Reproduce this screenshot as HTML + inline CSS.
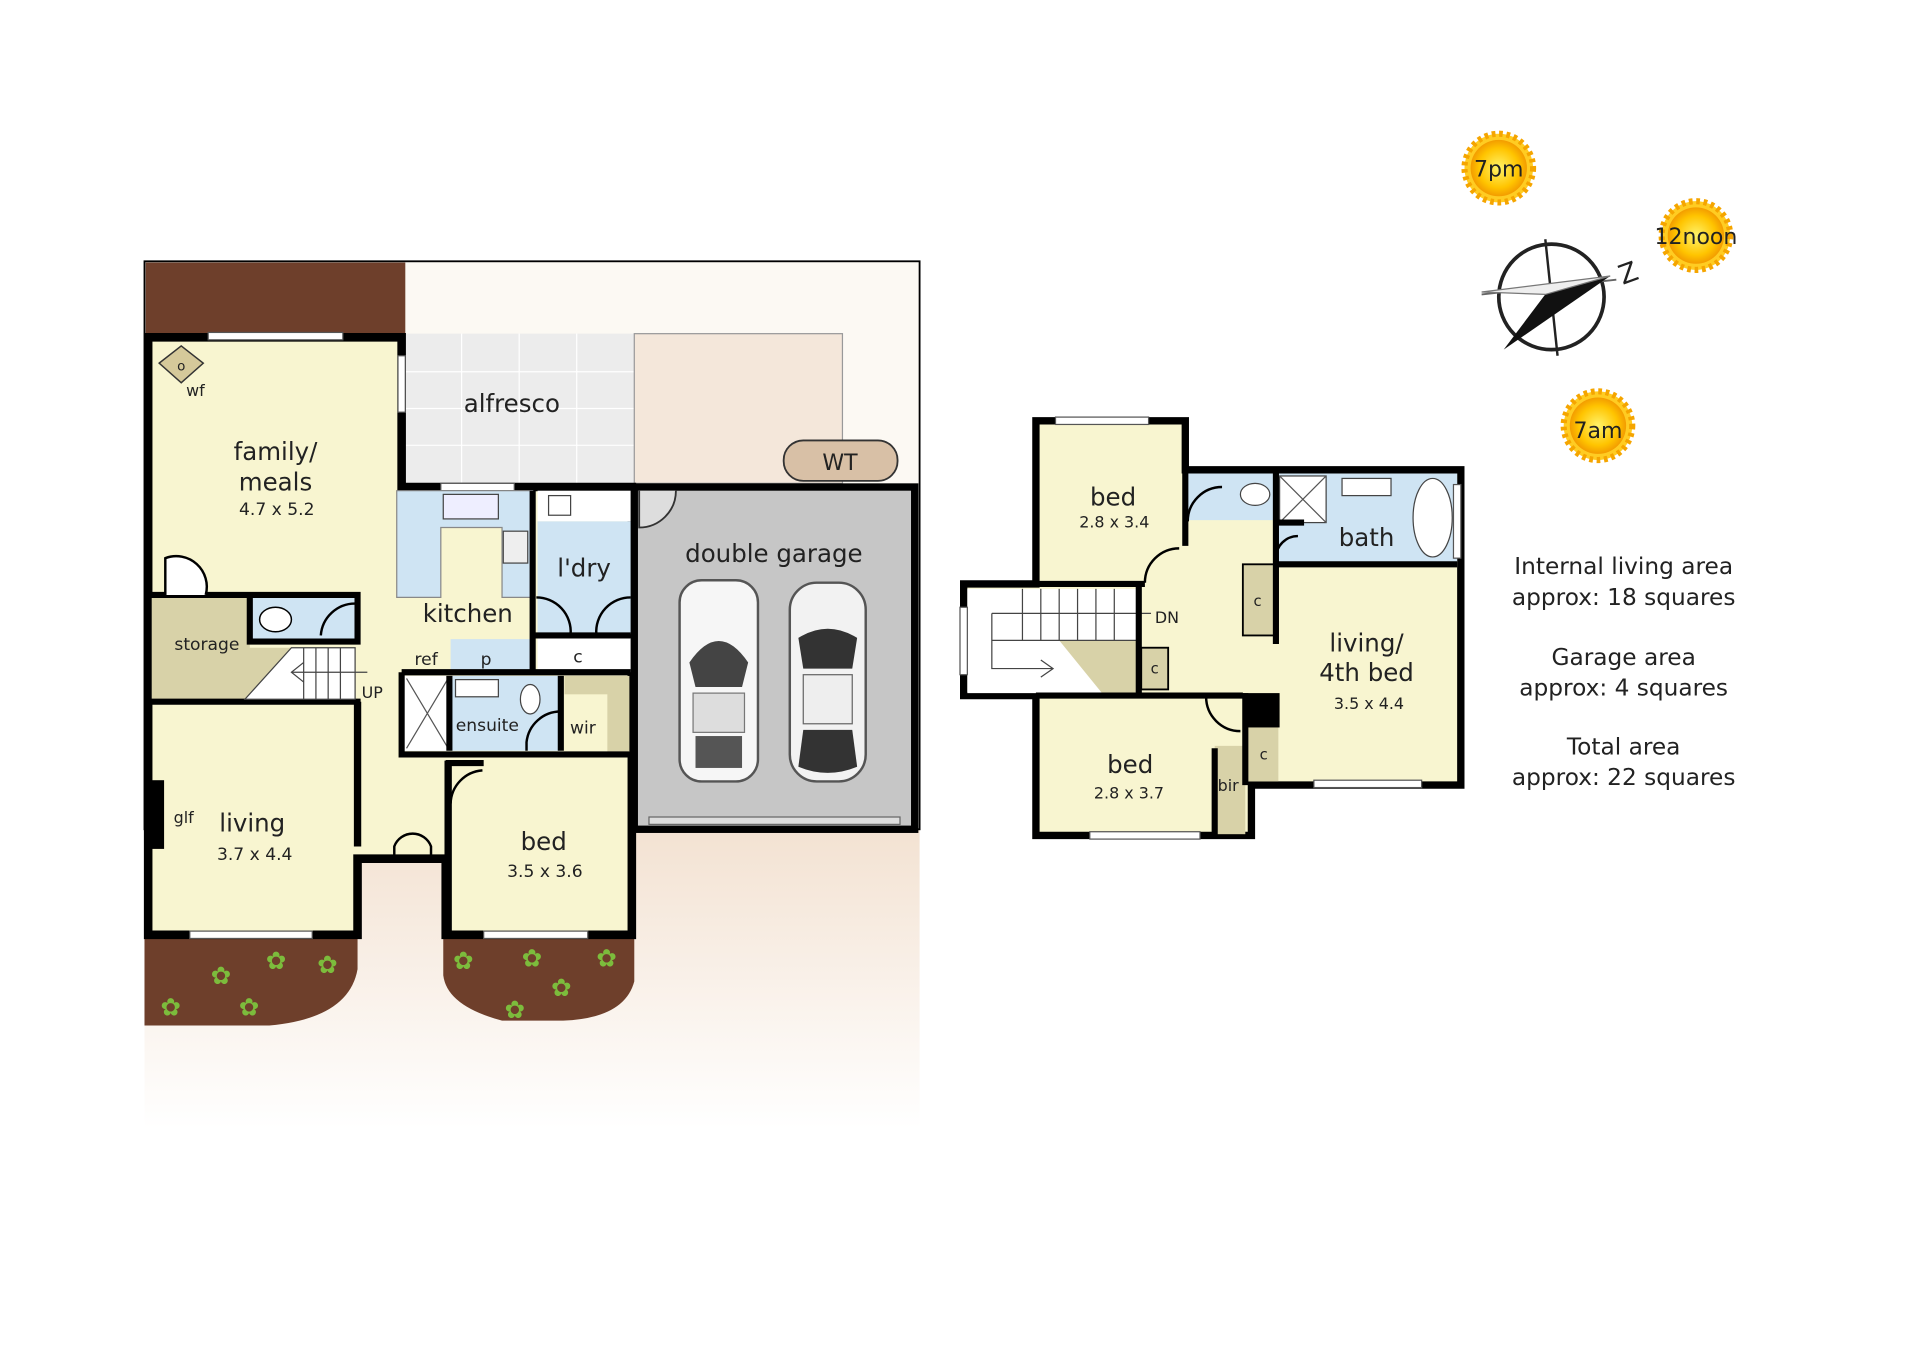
<!DOCTYPE html>
<html><head><meta charset="utf-8"><style>
html,body{margin:0;padding:0;background:#fff;}
svg{display:block;}
text{font-family:"DejaVu Sans","Liberation Sans",sans-serif;fill:#222;}
text.fl{fill:#7cbc3c;}
</style></head><body>
<svg width="1920" height="1358" viewBox="0 0 1568 1107" preserveAspectRatio="none" xmlns="http://www.w3.org/2000/svg">
<defs>
<linearGradient id="fade" x1="0" y1="0" x2="0" y2="1">
<stop offset="0" stop-color="#f3e2d2"/><stop offset="1" stop-color="#ffffff"/></linearGradient>
<radialGradient id="sun"><stop offset="0" stop-color="#fff36a"/><stop offset="0.7" stop-color="#ffc400"/><stop offset="1" stop-color="#f39c00"/></radialGradient>
</defs>
<rect x="118" y="676" width="633" height="244" fill="url(#fade)"/>
<rect x="118" y="213" width="633" height="463" fill="#fcf9f3" stroke="#000" stroke-width="1.5"/>
<rect x="119" y="214" width="212" height="58" fill="#6e3f2b"/>
<rect x="331" y="272" width="187" height="122" fill="#ececec"/>
<g stroke="#fff" stroke-width="1"><line x1="377" y1="272" x2="377" y2="394"/><line x1="424" y1="272" x2="424" y2="394"/><line x1="471" y1="272" x2="471" y2="394"/><line x1="331" y1="303" x2="518" y2="303"/><line x1="331" y1="333" x2="518" y2="333"/><line x1="331" y1="363" x2="518" y2="363"/></g>
<rect x="518" y="272" width="170" height="122" fill="#f4e7da" stroke="#999" stroke-width="1"/>
<rect x="640" y="359" width="93" height="33" rx="16" fill="#d8c0a6" stroke="#333" stroke-width="1.5"/>
<text x="686" y="383" font-size="18" text-anchor="middle">WT</text>
<path d="M118 765 H292 V790 Q285 830 220 836 H118 Z" fill="#6e3f2b"/>
<path d="M362 765 H518 V800 Q510 830 460 832 H410 Q365 820 362 795 Z" fill="#6e3f2b"/>
<g font-size="20">
<text class="fl" x="172" y="802">✿</text><text class="fl" x="217" y="790">✿</text><text class="fl" x="259" y="793">✿</text><text class="fl" x="131" y="828">✿</text><text class="fl" x="195" y="828">✿</text>
<text class="fl" x="370" y="790">✿</text><text class="fl" x="426" y="788">✿</text><text class="fl" x="487" y="788">✿</text><text class="fl" x="450" y="812">✿</text><text class="fl" x="412" y="830">✿</text></g>
<rect x="518" y="397" width="229" height="279" fill="#c6c6c6" stroke="#000" stroke-width="6"/>
<rect x="530" y="666" width="205" height="6" fill="#ddd" stroke="#666" stroke-width="1"/>
<path d="M522 400 V430 A30 30 0 0 0 552 400" fill="#ddd" stroke="#333" stroke-width="1.5"/>
<text x="632" y="458" font-size="20" text-anchor="middle">double garage</text>
<g><rect x="555" y="473" width="64" height="164" rx="18" fill="#f6f6f6" stroke="#555" stroke-width="2"/>
<path d="M563 540 Q587 505 611 540 L606 560 H568 Z" fill="#444"/>
<rect x="568" y="600" width="38" height="26" fill="#555"/>
<rect x="566" y="565" width="42" height="32" fill="#ddd" stroke="#777"/></g>
<g><rect x="645" y="475" width="62" height="162" rx="22" fill="#f2f2f2" stroke="#555" stroke-width="2"/>
<path d="M652 520 Q676 505 700 520 L696 545 H656 Z" fill="#333"/>
<rect x="656" y="550" width="40" height="40" fill="#eee" stroke="#666"/>
<path d="M656 595 H696 L700 625 Q676 635 652 625 Z" fill="#333"/></g>
<path d="M121 275 H328 V397 H516 V762 H364 V700 H292 V762 H121 Z" fill="#f8f5d0" stroke="#000" stroke-width="7" stroke-linejoin="miter"/>
<rect x="170" y="271" width="110" height="6" fill="#fff" stroke="#555" stroke-width="1"/>
<rect x="325" y="290" width="6" height="46" fill="#fff" stroke="#555" stroke-width="1"/>
<rect x="360" y="394" width="60" height="6" fill="#fff" stroke="#555" stroke-width="1"/>
<rect x="155" y="759" width="100" height="6" fill="#fff" stroke="#555" stroke-width="1"/>
<rect x="395" y="759" width="85" height="6" fill="#fff" stroke="#555" stroke-width="1"/>
<path d="M130 296 L148 282 L166 296 L148 312 Z" fill="#d5c99a" stroke="#333" stroke-width="1.2"/>
<text x="148" y="302" font-size="11" text-anchor="middle">o</text>
<text x="152" y="323" font-size="13">wf</text>
<path d="M324 400 H435 V487 H410 V430 H360 V487 H324 Z" fill="#cfe4f3" stroke="#888" stroke-width="1"/>
<rect x="362" y="403" width="45" height="20" fill="#eef" stroke="#444"/>
<rect x="411" y="433" width="20" height="26" fill="#eee" stroke="#444"/>
<rect x="439" y="400" width="76" height="25" fill="#fff"/>
<rect x="448" y="404" width="18" height="16" fill="#fff" stroke="#444"/>
<rect x="439" y="425" width="76" height="92" fill="#cfe4f3"/>
<rect x="439" y="520" width="76" height="28" fill="#fff"/>
<rect x="368" y="521" width="67" height="27" fill="#cfe4f3"/>
<path d="M435 400 V548 M437 518 H515 M437 548 H515 M328 548 H515" stroke="#000" stroke-width="5" fill="none"/>
<path d="M438 487 A28 28 0 0 1 466 517 M515 487 A28 28 0 0 0 487 517" stroke="#000" stroke-width="2" fill="none"/>
<text x="382" y="507" font-size="20" text-anchor="middle">kitchen</text>
<text x="477" y="470" font-size="20" text-anchor="middle">l'dry</text>
<text x="348" y="542" font-size="14" text-anchor="middle">ref</text>
<text x="397" y="542" font-size="14" text-anchor="middle">p</text>
<text x="472" y="540" font-size="14" text-anchor="middle">c</text>
<rect x="124" y="487" width="168" height="84" fill="#f8f5d0"/>
<path d="M124 487 H204 V528 H238 L200 570 H124 Z" fill="#d8d2a8"/>
<rect x="204" y="487" width="86" height="36" fill="#cfe4f3"/>
<g stroke="#000" stroke-width="5" fill="none"><path d="M121 485 H170 M160 485 H292 V523 H204 V485 M121 572 H292 V600"/></g>
<path d="M135 485 V455 A25 25 0 0 1 168 485" fill="#fff" stroke="#000" stroke-width="2"/>
<path d="M262 518 A28 28 0 0 1 290 492" fill="none" stroke="#000" stroke-width="2"/>
<ellipse cx="225" cy="505" rx="13" ry="10" fill="#fff" stroke="#000" stroke-width="1.2"/>
<g stroke="#444" stroke-width="1" fill="none"><path d="M200 570 L238 528 H290 V570 Z" fill="#fff"/>
<line x1="248" y1="528" x2="248" y2="570"/><line x1="258" y1="528" x2="258" y2="570"/><line x1="268" y1="528" x2="268" y2="570"/><line x1="278" y1="528" x2="278" y2="570"/><line x1="238" y1="548" x2="300" y2="548"/><path d="M248 540 L238 548 L248 556"/></g>
<text x="169" y="530" font-size="14" text-anchor="middle">storage</text>
<text x="304" y="569" font-size="13" text-anchor="middle">UP</text>
<rect x="330" y="551" width="128" height="61" fill="#cfe4f3"/>
<rect x="330" y="551" width="37" height="61" fill="#fff"/>
<path d="M332 553 L366 610 M366 553 L332 610" stroke="#555" stroke-width="1"/>
<rect x="461" y="551" width="53" height="62" fill="#d8d2a8"/>
<rect x="461" y="566" width="35" height="50" fill="#f8f5d0"/>
<g stroke="#000" stroke-width="5" fill="none"><path d="M328 548 V615 H395 M367 551 V612 M458 551 V612 M330 615 H514 M364 622 H395"/></g>
<path d="M430 612 V605 A28 28 0 0 1 458 580" fill="none" stroke="#000" stroke-width="2"/>
<rect x="372" y="554" width="35" height="14" fill="#fff" stroke="#444"/>
<ellipse cx="433" cy="570" rx="8" ry="12" fill="#fff" stroke="#444"/>
<text x="398" y="596" font-size="14" text-anchor="middle">ensuite</text>
<text x="476" y="598" font-size="14" text-anchor="middle">wir</text>
<g stroke="#000" stroke-width="6" fill="none"><path d="M292 572 V690 M366 620 V762"/></g>
<path d="M368 655 A28 28 0 0 1 394 628" fill="none" stroke="#000" stroke-width="2"/>
<path d="M322 700 V690 A16 16 0 0 1 352 690 V700" fill="none" stroke="#000" stroke-width="2"/>
<rect x="120" y="636" width="14" height="56" fill="#000"/>
<text x="150" y="671" font-size="13" text-anchor="middle">glf</text>
<text x="225" y="375" font-size="20" text-anchor="middle">family/</text>
<text x="225" y="400" font-size="20" text-anchor="middle">meals</text>
<text x="226" y="420" font-size="14" text-anchor="middle">4.7 x 5.2</text>
<text x="418" y="336" font-size="20" text-anchor="middle">alfresco</text>
<text x="206" y="678" font-size="20" text-anchor="middle">living</text>
<text x="208" y="701" font-size="14" text-anchor="middle">3.7 x 4.4</text>
<text x="444" y="693" font-size="20" text-anchor="middle">bed</text>
<text x="445" y="715" font-size="14" text-anchor="middle">3.5 x 3.6</text>
<path d="M846 343 H968 V383 H1193 V640 H1022 V681 H846 V567 H787 V476 H846 Z" fill="#f8f5d0" stroke="#000" stroke-width="6"/>
<rect x="1042" y="386" width="148" height="72" fill="#cfe4f3"/>
<rect x="970" y="386" width="72" height="38" fill="#cfe4f3"/>
<rect x="1045" y="388" width="38" height="38" fill="#fff" stroke="#444"/>
<path d="M1045 388 L1083 426 M1083 388 L1045 426" stroke="#555"/>
<ellipse cx="1170" cy="422" rx="16" ry="32" fill="#fff" stroke="#444"/>
<rect x="1096" y="390" width="40" height="14" fill="#fff" stroke="#444"/>
<ellipse cx="1025" cy="403" rx="12" ry="9" fill="#fff" stroke="#444"/>
<rect x="1015" y="460" width="27" height="58" fill="#d8d2a8" stroke="#000" stroke-width="1.5"/>
<rect x="932" y="528" width="22" height="34" fill="#d8d2a8" stroke="#000" stroke-width="1.5"/>
<rect x="992" y="608" width="25" height="72" fill="#d8d2a8"/>
<rect x="1017" y="592" width="27" height="45" fill="#d8d2a8"/>
<rect x="1015" y="565" width="30" height="28" fill="#000"/>
<path d="M790 480 H930 V565 H790 Z" fill="#fff"/>
<path d="M865 522 H930 V565 H900 Z" fill="#d8d2a8"/>
<g stroke="#444" stroke-width="1" fill="none">
<line x1="835" y1="480" x2="835" y2="522"/><line x1="850" y1="480" x2="850" y2="522"/><line x1="865" y1="480" x2="865" y2="522"/><line x1="880" y1="480" x2="880" y2="522"/><line x1="895" y1="480" x2="895" y2="522"/><line x1="910" y1="480" x2="910" y2="522"/>
<path d="M810 500 H940 M810 500 V545 H860 M850 538 L860 545 L850 552 M810 522 H930"/></g>
<g stroke="#000" stroke-width="5" fill="none">
<path d="M968 383 V445 M1042 383 V460 H1190 M1042 460 V525 M930 476 V565 M846 476 H935 M846 567 H1015 M1017 565 V640 M992 610 V681 M1065 426 H1042"/></g>
<path d="M935 475 A28 28 0 0 1 963 447" fill="none" stroke="#000" stroke-width="2"/>
<path d="M970 425 A28 28 0 0 1 998 397" fill="none" stroke="#000" stroke-width="2"/>
<path d="M1042 455 A18 18 0 0 1 1060 437" fill="none" stroke="#000" stroke-width="2"/>
<path d="M985 568 A28 28 0 0 0 1013 596" fill="none" stroke="#000" stroke-width="2"/>
<rect x="862" y="340" width="76" height="6" fill="#fff" stroke="#555"/>
<rect x="1073" y="636" width="88" height="6" fill="#fff" stroke="#555"/>
<rect x="890" y="678" width="90" height="6" fill="#fff" stroke="#555"/>
<rect x="1187" y="395" width="6" height="60" fill="#fff" stroke="#555"/>
<rect x="784" y="495" width="6" height="55" fill="#fff" stroke="#555"/>
<text x="909" y="412" font-size="20" text-anchor="middle">bed</text>
<text x="910" y="430" font-size="13" text-anchor="middle">2.8 x 3.4</text>
<text x="1116" y="445" font-size="20" text-anchor="middle">bath</text>
<text x="953" y="508" font-size="13" text-anchor="middle">DN</text>
<text x="1027" y="494" font-size="12" text-anchor="middle">c</text>
<text x="943" y="549" font-size="12" text-anchor="middle">c</text>
<text x="1032" y="619" font-size="12" text-anchor="middle">c</text>
<text x="1116" y="531" font-size="20" text-anchor="middle">living/</text>
<text x="1116" y="555" font-size="20" text-anchor="middle">4th bed</text>
<text x="1118" y="578" font-size="13" text-anchor="middle">3.5 x 4.4</text>
<text x="923" y="630" font-size="20" text-anchor="middle">bed</text>
<text x="922" y="651" font-size="13" text-anchor="middle">2.8 x 3.7</text>
<text x="1003" y="645" font-size="13" text-anchor="middle">bir</text>
<g><circle cx="1224" cy="137" r="28" fill="#ffcc22" stroke="#f5a500" stroke-width="5" stroke-dasharray="3 3"/><circle cx="1224" cy="137" r="23" fill="url(#sun)"/></g>
<text x="1224" y="144" font-size="18" text-anchor="middle">7pm</text>
<g><circle cx="1385" cy="192" r="28" fill="#ffcc22" stroke="#f5a500" stroke-width="5" stroke-dasharray="3 3"/><circle cx="1385" cy="192" r="23" fill="url(#sun)"/></g>
<text x="1385" y="199" font-size="18" text-anchor="middle">12noon</text>
<g><circle cx="1305" cy="347" r="28" fill="#ffcc22" stroke="#f5a500" stroke-width="5" stroke-dasharray="3 3"/><circle cx="1305" cy="347" r="23" fill="url(#sun)"/></g>
<text x="1305" y="357" font-size="18" text-anchor="middle">7am</text>
<circle cx="1267" cy="242" r="43" fill="none" stroke="#222" stroke-width="3"/>
<line x1="1262" y1="195" x2="1272" y2="290" stroke="#222" stroke-width="2"/>
<line x1="1210" y1="240" x2="1320" y2="228" stroke="#666" stroke-width="1.5"/>
<path d="M1315 225 L1262 240 L1228 285 Z" fill="#111"/>
<path d="M1315 225 L1262 240 L1210 238 Z" fill="#eee" stroke="#777"/>
<text x="1322" y="230" font-size="22" fill="#333" transform="rotate(-20 1330 222)">Z</text>
<g font-size="19" text-anchor="middle">
<text x="1326" y="468">Internal living area</text><text x="1326" y="493">approx: 18 squares</text>
<text x="1326" y="542">Garage area</text><text x="1326" y="567">approx: 4 squares</text>
<text x="1326" y="615">Total area</text><text x="1326" y="640">approx: 22 squares</text></g>
</svg>
</body></html>
